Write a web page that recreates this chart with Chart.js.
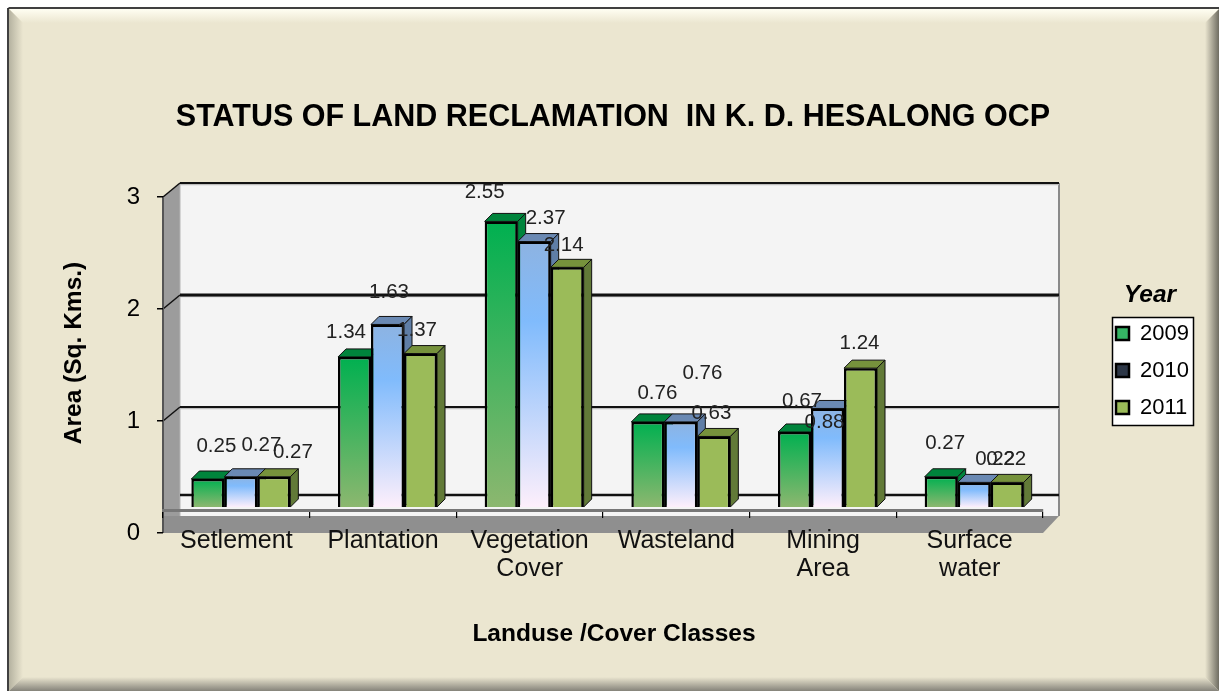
<!DOCTYPE html>
<html><head><meta charset="utf-8">
<style>html,body{margin:0;padding:0;background:#fff}#w{width:1219px;height:691px}canvas{display:block}</style>
<script src="https://cdn.jsdelivr.net/npm/chart.js@4/dist/chart.umd.js"></script>
</head><body><div id="w"><canvas id="c" width="1219" height="691"></canvas></div>
<script>
const categories = [['Setlement'],['Plantation'],['Vegetation','Cover'],['Wasteland'],['Mining','Area'],['Surface','water']];
const years = ['2009','2010','2011'];
const values2009 = [0.25,1.34,2.55,0.76,0.67,0.27];
const values2010 = [0.27,1.63,2.37,0.76,0.88,0.22];
const values2011 = [0.27,1.37,2.14,0.63,1.24,0.22];
const chartTitle = 'STATUS OF LAND RECLAMATION  IN K. D. HESALONG OCP';
const yTitle = 'Area (Sq. Kms.)';
const xTitle = 'Landuse /Cover Classes';
const legendTitle = 'Year';
const yTickValues = [0,1,2,3];

// label nudges relative to each bar's top centre (the reference's labels were hand-placed)
const nudge2009 = [[8.5,-33],[-8.5,-25],[-16.5,-29],[9.5,-29],[7.5,-31],[4,-33]];
const nudge2010 = [[20.5,-31],[1.5,-32],[11.5,-23],[21.5,-49],[-3,14],[21,-23]];
const nudge2011 = [[19,-24],[-3.5,-23],[-3.5,-22],[-2.5,-23],[-1,-25],[-1,-23]];
const nudges = [nudge2009,nudge2010,nudge2011];

const FONT = '"Liberation Sans", Arial, sans-serif';
const DEPTH_X = 8, DEPTH_Y = 8, BAR_SHIFT = 4.5, WALL_X = 17, WALL_Y = 14;
const topFace = ['#00843c','#6a89b3','#76923c'];
const sideFace = ['#00843c','#5f7ea6','#627a38'];
const swatches = ['#35b565','#2c3646','#9bbb59'];

function barFill(i){
  return function(ctx){
    if(i===2) return '#9bbb59';
    const chart = ctx.chart, sc = chart.scales.y;
    if(!sc || !ctx.parsed) return swatches[i];
    const y0 = sc.getPixelForValue(0), y1 = sc.getPixelForValue(ctx.parsed.y);
    const g = chart.ctx.createLinearGradient(0,y1,0,y0);
    if(i===0){ g.addColorStop(0,'#00b050'); g.addColorStop(1,'#8cb76f'); }
    else { g.addColorStop(0,'#8db3e2'); g.addColorStop(0.3,'#80bbfc'); g.addColorStop(1,'#fdeffb'); }
    return g;
  };
}
function poly(ctx,pts,fill,stroke,lw){
  ctx.beginPath(); pts.forEach((p,i)=> i?ctx.lineTo(p[0],p[1]):ctx.moveTo(p[0],p[1])); ctx.closePath();
  if(fill){ctx.fillStyle=fill;ctx.fill();}
  if(stroke){ctx.strokeStyle=stroke;ctx.lineWidth=lw||1;ctx.stroke();}
}
function hline(ctx,x0,y0,x1,y1,c,lw){ctx.beginPath();ctx.moveTo(x0,y0);ctx.lineTo(x1,y1);ctx.strokeStyle=c;ctx.lineWidth=lw;ctx.stroke();}

function drawValueLabels(chart){
  const ctx = chart.ctx;
  ctx.save();
  ctx.font = '20.5px '+FONT; ctx.fillStyle='#222'; ctx.textAlign='center'; ctx.textBaseline='middle';
  chart.data.datasets.forEach((ds,i)=>{
    chart.getDatasetMeta(i).data.forEach((b,j)=>{
      const n = nudges[i][j];
      ctx.fillText(ds.data[j].toFixed(2), b.x+BAR_SHIFT+n[0], b.y+n[1]);
    });
  });
  ctx.restore();
}

const scene = {
  id:'scene',
  afterLayout(chart){
    const l = chart.legend;
    l.left = 1101; l.top = 283; l.right = l.left+l.width; l.bottom = l.top+300;
  },
  beforeDraw(chart){
    const ctx = chart.ctx, W = chart.width, H = chart.height, a = chart.chartArea;
    const yt = chart.scales.yTicks;
    [['x',11,0],['yTicks',0,-5]].forEach(([id,dx,dy])=>{
      const s = chart.scales[id];
      if(!s._wrapped){ const d = s.drawTitle; s.drawTitle = function(){ this.ctx.save(); this.ctx.translate(dx,dy); d.call(this); this.ctx.restore(); }; s._wrapped = true; }
    });
    ctx.save();
    ctx.fillStyle='#fff'; ctx.fillRect(0,0,W,H);
    ctx.fillStyle='#ebe6d0'; ctx.fillRect(9,9,W-9,H-9);
    const bevel = 14;
    let g = ctx.createLinearGradient(0,9,0,9+bevel); g.addColorStop(0,'#fffef2'); g.addColorStop(1,'#ebe6d0');
    poly(ctx,[[9,9],[W,9],[W-bevel,9+bevel],[9+bevel,9+bevel]],g);
    g = ctx.createLinearGradient(9,0,9+bevel,0); g.addColorStop(0,'#b5b2a0'); g.addColorStop(1,'#ebe6d0');
    poly(ctx,[[9,9],[9+bevel,9+bevel],[9+bevel,H-bevel],[9,H]],g);
    g = ctx.createLinearGradient(W-bevel,0,W,0); g.addColorStop(0,'#ebe6d0'); g.addColorStop(1,'#6f6d62');
    poly(ctx,[[W,9],[W,H],[W-bevel,H-bevel],[W-bevel,9+bevel]],g);
    g = ctx.createLinearGradient(0,H-bevel,0,H); g.addColorStop(0,'#ebe6d0'); g.addColorStop(1,'#85837a');
    poly(ctx,[[9,H],[9+bevel,H-bevel],[W-bevel,H-bevel],[W,H]],g);
    hline(ctx,8.5,8,W,8,'#000',1.5); hline(ctx,8,8,8,H,'#000',1.5);

    const L=a.left, R=a.right, T=yt.getPixelForValue(3), B=a.bottom;
    const backL=L+WALL_X, backR=R+WALL_X-1, backT=a.top, backB=B-WALL_Y-3;
    poly(ctx,[[backL,backT],[backR,backT],[backR,backB],[backL,backB]],'#f4f4f4');
    hline(ctx,backR,backT,backR,backB,'#8a8a8a',2);
    poly(ctx,[[L,T],[backL,backT],[backL,backB],[L,B]],'#9c9c9c');
    hline(ctx,backL,backT,backL,backB,'#b4b4b4',1);
    hline(ctx,L,B,backL,backB,'#222',1);
    yTickValues.forEach((v,i)=>{
      const py = yt.getPixelForValue(v);
      const lw = [2.5,2,3,2][i];
      if(v===0){ const back = yt.getPixelForValue(0.34); hline(ctx,backL,back,backR,back,'#111',lw); return; }
      const gy = py-WALL_Y;
      hline(ctx,backL,gy+1.5,backR,gy+1.5,'#bdbdbd',1.5);
      hline(ctx,backL,gy,backR,gy,'#111',lw);
      hline(ctx,L,py,backL,gy,'#111',1.5);
    });
    poly(ctx,[[L,backB],[backR,backB],[R,B],[L,B]],'#8f8f8f');
    hline(ctx,L,B,L,T,'#555',2);
    ctx.fillStyle='#fff'; ctx.fillRect(1112.5,317.5,81,108);
    ctx.strokeStyle='#000'; ctx.lineWidth=1.5; ctx.strokeRect(1112.5,317.5,81,108);
    ctx.restore();
  },
  // paint 2009 first so that each later series covers the side face of the one before it
  beforeDatasetsDraw(chart){
    chart.data.datasets.forEach((ds,i)=> chart._drawDataset(chart.getDatasetMeta(i)));
    drawValueLabels(chart);
    return false;
  },
  beforeDatasetDraw(chart,args){
    const ctx = chart.ctx, i = args.index;
    ctx.save();
    ctx.translate(BAR_SHIFT,0);
    args.meta.data.forEach(b=>{
      const p = b.getProps(['x','y','base','width'],true);
      const l=p.x-p.width/2, r=p.x+p.width/2;
      poly(ctx,[[l,p.y],[l+DEPTH_X,p.y-DEPTH_Y],[r+DEPTH_X,p.y-DEPTH_Y],[r,p.y]],topFace[i],'#111',1);
      poly(ctx,[[r,p.y],[r+DEPTH_X,p.y-DEPTH_Y],[r+DEPTH_X,p.base-DEPTH_Y],[r,p.base]],sideFace[i],'#111',1);
    });
  },
  afterDatasetDraw(chart){ chart.ctx.restore(); }
};

new Chart(document.getElementById('c'),{
  type:'bar',
  data:{
    labels:categories,
    datasets:[values2009,values2010,values2011].map((d,i)=>({
      label:years[i], data:d, yAxisID:'y', xAxisID:'x',
      clip:false,
      backgroundColor:barFill(i), borderColor:'#000', borderWidth:2.5,
      categoryPercentage:0.675, barPercentage:1
    }))
  },
  options:{
    responsive:false, animation:false, events:[],
    layout:{padding:{left:7,right:0,top:0,bottom:158}},
    plugins:{
      tooltip:{enabled:false},
      title:{display:true,text:chartTitle,color:'#000',font:{family:FONT,size:30.5,weight:'bold'},padding:{top:99,bottom:47.4},fullSize:true},
      legend:{
        display:true, position:'chartArea', align:'start',
        title:{display:true,text:legendTitle,color:'#000',font:{family:FONT,size:24.5,weight:'bold',style:'italic',lineHeight:1},padding:{top:0,bottom:0}},
        labels:{
          boxWidth:13, boxHeight:13, padding:15, color:'#000', font:{family:FONT,size:22},
          generateLabels(){ return years.map((y,i)=>({text:y,fillStyle:swatches[i],strokeStyle:'#000',lineWidth:2.5,datasetIndex:i,hidden:false})); }
        }
      }
    },
    scales:{
      x:{
        type:'category', position:{y:-0.0268}, offset:true,
        grid:{display:true,offset:true,drawOnChartArea:false,color:'#000',tickLength:6,lineWidth:1.2},
        border:{display:true,color:'#777',width:3},
        ticks:{color:'#111',autoSkip:false,maxRotation:0,padding:11,font:{family:FONT,size:25,lineHeight:1.12}},
        title:{display:true,text:xTitle,color:'#000',font:{family:FONT,size:24.5,weight:'bold'},padding:0},
        afterFit(s){ s.height=139; }
      },
      yTicks:{
        type:'linear', position:'left', min:0, max:3.125,
        grid:{display:true,drawOnChartArea:false,color:'#000',tickLength:6,lineWidth:1.5},
        border:{display:false},
        ticks:{color:'#000',stepSize:1,includeBounds:false,padding:17,font:{family:FONT,size:24},callback:v=>yTickValues.includes(v)?String(v):''},
        title:{display:true,text:yTitle,color:'#000',font:{family:FONT,size:24.5,weight:'bold'},padding:{top:53,bottom:0}},
        afterFit(s){ s.width=156; }
      },
      y:{
        type:'linear', position:'right', min:-0.232, max:2.893,
        grid:{display:false}, border:{display:false}, ticks:{display:false},
        afterFit(s){ s.width=176; }
      }
    }
  },
  plugins:[scene]
});
</script></body></html>
